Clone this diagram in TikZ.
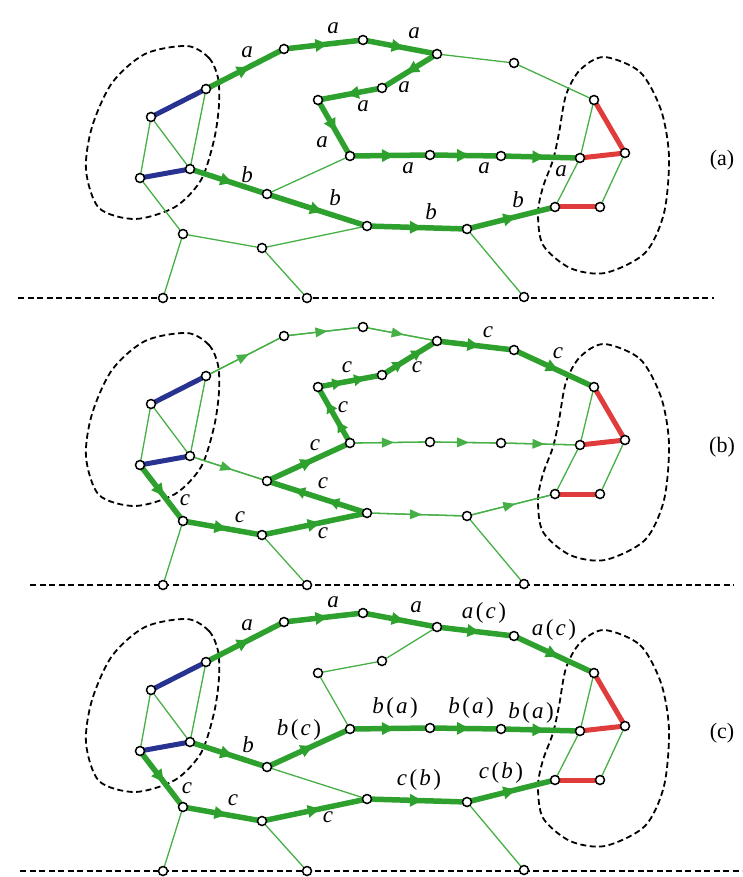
\documentclass[tikz,border=0pt]{standalone}
\usepackage{fontspec}
\setmainfont{Liberation Serif}
\usetikzlibrary{arrows.meta, decorations.markings}
\definecolor{linkgreen}{RGB}{70,175,70}
\definecolor{routegreen}{RGB}{45,160,45}
\definecolor{barblue}{RGB}{40,50,145}
\definecolor{barred}{RGB}{225,60,60}
\pgfdeclarelayer{bg}
\pgfsetlayers{bg,main}
\newcommand{\pair}[2]{#1\kern2.5pt\textup{(}\kern2pt#2\kern2.5pt\textup{)}}

\begin{document}
\begin{tikzpicture}[x=1pt, y=-1pt,
  joint/.style={circle, draw, fill=white, line width=1.5pt, inner sep=0pt, minimum size=9pt},
  link/.style={linkgreen, line width=1.3pt},
  route/.style={routegreen, line width=5.5pt},
  bluebar/.style={barblue, line width=5pt},
  redbar/.style={barred, line width=5pt},
  fwd/.style={postaction={decorate}, decoration={markings,
    mark=at position 0.55 with {\arrow{Triangle[length=12pt, width=13pt, line width=0pt]}}}},
  fwdtwo/.style={postaction={decorate}, decoration={markings,
    mark=at position 0.38 with {\arrow{Triangle[length=10pt, width=12pt, line width=0pt]}},
    mark=at position 0.72 with {\arrow{Triangle[length=10pt, width=12pt, line width=0pt]}}}},
  fwdthin/.style={postaction={decorate}, decoration={markings,
    mark=at position 0.55 with {\arrow{Triangle[length=12pt, width=10pt, line width=0pt]}}}},
  boundary/.style={line width=1.8pt, dash pattern=on 6pt off 3.5pt},
  lbl/.style={font=\fontsize{23}{23}\selectfont\itshape, inner sep=0pt},
  tag/.style={font=\fontsize{22}{22}\selectfont, inner sep=0pt}
]
  \useasboundingbox (0,0) rectangle (742,877);

  % joints, boundaries and ground line of each panel
  \foreach \p/\dy/\xl/\xr in {a/0/18/714, b/287/30/734, c/573/20/742} {
    \begin{scope}[shift={(0,\dy)}]
      \foreach \n/\x/\y in {L1/151/117, L2/206/89, L3/140/178, L4/190/169,
          n1/284/49, n2/363/40, n3/437/54, n4/514/63,
          n5/382/88, n6/318/100, n7/350/156, n8/430/155, n9/501/156,
          n10/267/194, n11/367/226, n12/467/229, n13/183/234, n14/262/248,
          R1/594/100, R2/580/158, R3/625/153, R4/555/207, R5/600/207,
          g1/163/298, g2/307/298, g3/524/297}
        \node[joint] (\p-\n) at (\x,\y) {};
      \coordinate (\p-gl) at (\xl,298);
      \coordinate (\p-gr) at (\xr,298);
      \node[tag] (\p-tag) at (722,160) {(\p)};
      \begin{pgfonlayer}{bg}
        \draw[boundary] plot[smooth cycle] coordinates {(187,46) (209,58) (218,78)
          (219,105) (214,140) (201,180) (175,207) (135,219) (99,208) (86,170)
          (92,127) (112,83) (145,54)};
        \draw[boundary] plot[smooth cycle] coordinates {(604,57) (640,72) (661,110)
          (669,157) (664,213) (645,253) (605,273) (570,268) (543,245) (538,213)
          (543,187) (553,160) (559,133) (566,95) (580,70)};
        \draw[boundary] (\p-gl) -- (\p-gr);
      \end{pgfonlayer}
    \end{scope}
  }

  \begin{pgfonlayer}{bg}
    % plain links and bars, same in every panel
    \foreach \p in {a,b,c} {
      \foreach \u/\v in {L1/L3, L1/L4, L2/L4, L3/n13, n13/g1, n13/n14, n14/n11,
          n14/g2, n10/n7, n10/n11, n12/g3, n3/n4, n4/R1, R1/R2, R2/R4, R3/R5,
          L2/n1, n1/n2, n2/n3, n3/n5, n5/n6, n6/n7, n7/n8, n8/n9, n9/R2,
          L4/n10, n11/n12, n12/R4}
        \draw[link] (\p-\u.center) -- (\p-\v.center);
      \foreach \u/\v in {L1/L2, L3/L4}
        \draw[bluebar] (\p-\u.center) -- (\p-\v.center);
      \foreach \u/\v in {R1/R3, R2/R3, R4/R5}
        \draw[redbar] (\p-\u.center) -- (\p-\v.center);
    }
    % (a) routes a and b
    \foreach \u/\v in {L2/n1, n1/n2, n2/n3, n3/n5, n5/n6, n6/n7, n7/n8, n8/n9,
        n9/R2, L4/n10, n10/n11, n11/n12, n12/R4}
      \draw[route, fwd] (a-\u.center) -- (a-\v.center);
    % (b) idle links and route c
    \foreach \u/\v in {L2/n1, n1/n2, n2/n3, n7/n8, n8/n9, n9/R2, L4/n10,
        n11/n12, n12/R4}
      \draw[link, fwdthin] (b-\u.center) -- (b-\v.center);
    \foreach \u/\v in {L3/n13, n13/n14, n14/n11, n10/n7, n3/n4, n4/R1}
      \draw[route, fwd] (b-\u.center) -- (b-\v.center);
    \foreach \u/\v in {n11/n10, n7/n6, n6/n5, n5/n3}
      \draw[route, fwdtwo] (b-\u.center) -- (b-\v.center);
    % (c) three routes
    \foreach \u/\v in {L2/n1, n1/n2, n2/n3, n3/n4, n4/R1, L4/n10, n10/n7, n7/n8,
        n8/n9, n9/R2, L3/n13, n13/n14, n14/n11, n11/n12, n12/R4}
      \draw[route, fwd] (c-\u.center) -- (c-\v.center);
  \end{pgfonlayer}

  % route labels
  \foreach \x/\y/\t [count=\i] in {247/52/a, 333/28/a, 414/33/a, 404/87/a,
      363/106/a, 322/142/a, 408/168/a, 484/168/a, 561/171/a,
      247/175/b, 335/198/b, 431/212/b, 518/200/b}
    \node[lbl] (a-lab\i) at (\x,\y) {\t};
  \foreach \x/\y/\t [count=\i] in {185/500/c, 240/517/c, 323/533/c, 323/483/c,
      315/445/c, 343/407/c, 347/367/c, 417/367/c, 488/332/c, 558/353/c}
    \node[lbl] (b-lab\i) at (\x,\y) {\t};
  \foreach \x/\y/\t [count=\i] in {247/625/a, 333/602/a, 416/607/a,
      484/613/\pair{a}{c}, 554/630/\pair{a}{c}, 248/745/b, 299/730/\pair{b}{c},
      395/708/\pair{b}{a}, 471/708/\pair{b}{a}, 531/713/\pair{b}{a},
      187/788/c, 233/800/c, 328/817/c, 419/780/\pair{c}{b}, 501/773/\pair{c}{b}}
    \node[lbl] (c-lab\i) at (\x,\y) {\t};
\end{tikzpicture}
\end{document}
